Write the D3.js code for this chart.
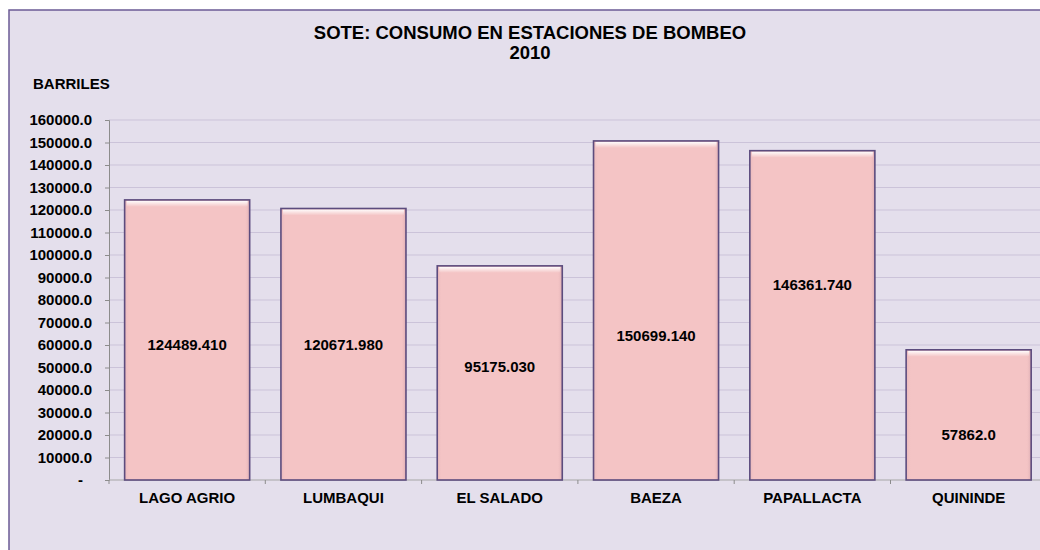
<!DOCTYPE html>
<html lang="es">
<head>
<meta charset="utf-8" />
<script src="https://d3js.org/d3.v7.min.js"></script>
<style>
  body { margin: 0; background: #fff; }
  svg text { font-family: Arial, "Liberation Sans", sans-serif; font-weight: bold; fill: #000; }
</style>
</head>
<body>
<div id="chart"></div>
<script>
// --- datos ---
var estaciones = ["LAGO AGRIO", "LUMBAQUI", "EL SALADO", "BAEZA", "PAPALLACTA", "QUININDE"];
var consumo = [124489.410, 120671.980, 95175.030, 150699.140, 146361.740, 57862.0];
var etiquetas = ["124489.410", "120671.980", "95175.030", "150699.140", "146361.740", "57862.0"];
// altura (en barriles) donde se ubica cada etiqueta dentro de la barra
var etiquetaEn = [60000, 60000, 50200, 64000, 87000, 20000];
var ticksY = d3.range(0, 160001, 10000);

var W = 1040, H = 550;
var svg = d3.select("#chart").append("svg")
    .attr("width", W).attr("height", H);

// fondo del grafico
svg.append("rect")
    .attr("x", 9).attr("y", 10)
    .attr("width", W + 20).attr("height", H + 20)
    .attr("fill", "#e4dfec")
    .attr("stroke", "#6b5b95").attr("stroke-width", 1.5);

var x = d3.scaleBand()
    .domain(estaciones)
    .range([109, 109 + 6 * 156.3])
    .paddingInner(0.2).paddingOuter(0.1);

var y = d3.scaleLinear().domain([0, 160000]).range([480, 120]);

// lineas de division
svg.append("g")
    .selectAll("line")
    .data(ticksY.filter(d => d > 0))
    .enter().append("line")
    .attr("x1", 109).attr("x2", W)
    .attr("y1", d => y(d)).attr("y2", d => y(d))
    .attr("stroke", "#cbc3d9").attr("stroke-width", 1);

// eje Y
var ejeY = svg.append("g")
    .attr("transform", "translate(109,0)")
    .call(d3.axisLeft(y).tickValues(ticksY).tickSize(4).tickPadding(13)
        .tickFormat(d => d === 0 ? "-" : d3.format(".1f")(d)));
ejeY.select(".domain").attr("stroke", "#8c8c8c");
ejeY.selectAll(".tick line").attr("stroke", "#8c8c8c");
ejeY.selectAll(".tick text")
    .style("font-size", "15px")
    .attr("dx", d => d === 0 ? -9 : 0);

// eje X (linea base y marcas entre categorias)
svg.append("line")
    .attr("x1", 109).attr("x2", W)
    .attr("y1", y(0)).attr("y2", y(0))
    .attr("stroke", "#a6a6a6").attr("stroke-width", 1);
var paso = x.step();
svg.append("g")
    .selectAll("line")
    .data(d3.range(0, 7))
    .enter().append("line")
    .attr("x1", i => 109 + i * paso).attr("x2", i => 109 + i * paso)
    .attr("y1", y(0)).attr("y2", y(0) + 4)
    .attr("stroke", "#8c8c8c");

svg.append("g")
    .selectAll("text")
    .data(estaciones)
    .enter().append("text")
    .attr("x", d => x(d) + x.bandwidth() / 2)
    .attr("y", 503)
    .attr("text-anchor", "middle")
    .style("font-size", "15px")
    .text(d => d);

// gradiente para el brillo superior de las barras
var defs = svg.append("defs");
var brillo = defs.append("linearGradient")
    .attr("id", "brillo").attr("x1", 0).attr("y1", 0).attr("x2", 0).attr("y2", 1);
brillo.append("stop").attr("offset", "0%").attr("stop-color", "#fff").attr("stop-opacity", 0.95);
brillo.append("stop").attr("offset", "100%").attr("stop-color", "#fff").attr("stop-opacity", 0);

var lado = defs.append("linearGradient")
    .attr("id", "lado").attr("x1", 0).attr("y1", 0).attr("x2", 1).attr("y2", 0);
lado.append("stop").attr("offset", "0%").attr("stop-color", "#d9a9b0").attr("stop-opacity", 0.5);
lado.append("stop").attr("offset", "4%").attr("stop-color", "#f4c4c4").attr("stop-opacity", 0);
lado.append("stop").attr("offset", "96%").attr("stop-color", "#f4c4c4").attr("stop-opacity", 0);
lado.append("stop").attr("offset", "100%").attr("stop-color", "#c99aa5").attr("stop-opacity", 0.6);

// barras
var barras = svg.append("g")
    .selectAll("g")
    .data(consumo)
    .enter().append("g");

barras.append("rect")
    .attr("x", (d, i) => x(estaciones[i]))
    .attr("y", d => y(d))
    .attr("width", x.bandwidth())
    .attr("height", d => y(0) - y(d))
    .attr("fill", "#f4c4c5");

barras.append("rect")
    .attr("x", (d, i) => x(estaciones[i]))
    .attr("y", d => y(d))
    .attr("width", x.bandwidth())
    .attr("height", d => y(0) - y(d))
    .attr("fill", "url(#lado)");

barras.append("rect")
    .attr("x", (d, i) => x(estaciones[i]) + 2)
    .attr("y", d => y(d) + 1)
    .attr("width", x.bandwidth() - 4)
    .attr("height", 6)
    .attr("fill", "url(#brillo)");

barras.append("rect")
    .attr("x", (d, i) => x(estaciones[i]))
    .attr("y", d => y(d))
    .attr("width", x.bandwidth())
    .attr("height", d => y(0) - y(d))
    .attr("fill", "none")
    .attr("stroke", "#5c4c7e").attr("stroke-width", 1.6);

// etiquetas de datos
svg.append("g")
    .selectAll("text")
    .data(etiquetas)
    .enter().append("text")
    .attr("x", (d, i) => x(estaciones[i]) + x.bandwidth() / 2)
    .attr("y", (d, i) => y(etiquetaEn[i]))
    .attr("dy", "0.35em")
    .attr("text-anchor", "middle")
    .style("font-size", "15px")
    .text(d => d);

// titulos
svg.append("text")
    .attr("x", 530).attr("y", 38.5)
    .attr("text-anchor", "middle")
    .style("font-size", "18.5px")
    .text("SOTE: CONSUMO EN ESTACIONES DE BOMBEO");
svg.append("text")
    .attr("x", 530).attr("y", 59)
    .attr("text-anchor", "middle")
    .style("font-size", "18.5px")
    .text("2010");

svg.append("text")
    .attr("x", 33).attr("y", 89)
    .style("font-size", "15px")
    .text("BARRILES");
</script>
</body>
</html>
